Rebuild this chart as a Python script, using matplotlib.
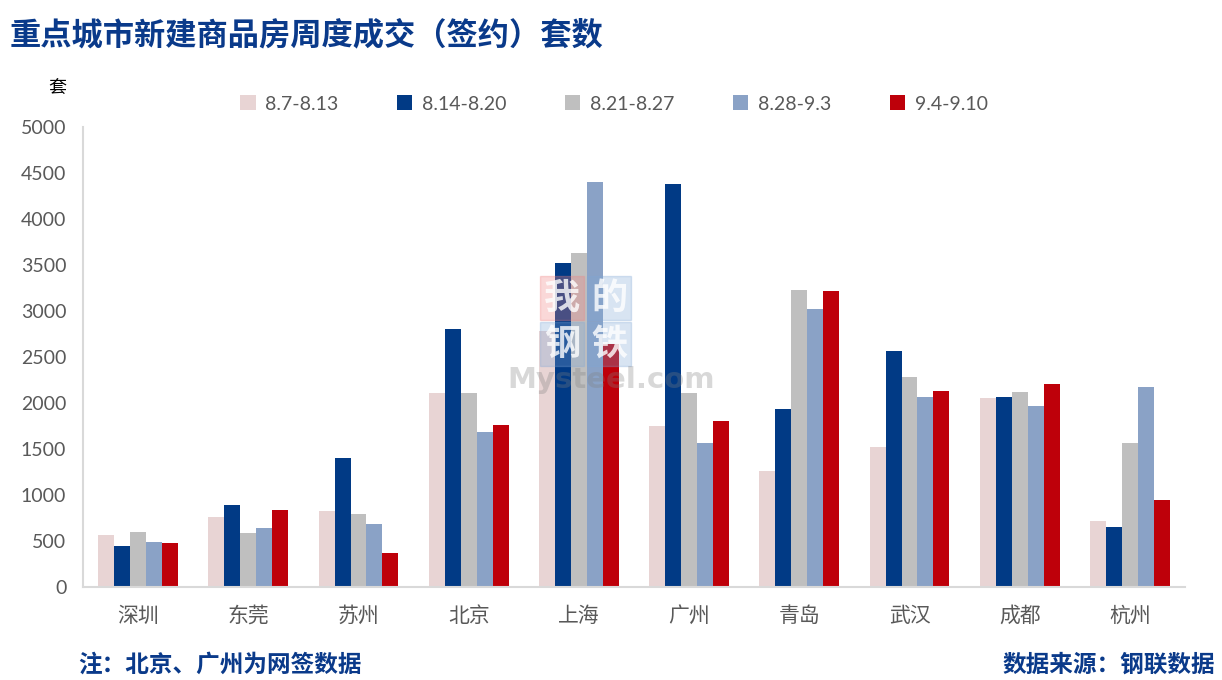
import matplotlib
matplotlib.use("Agg")
import matplotlib.pyplot as plt
import numpy as np
from matplotlib.patches import Rectangle

plt.rcParams['font.family'] = ['Lato', 'Noto Sans CJK SC', 'DejaVu Sans']

cities = ["深圳", "东莞", "苏州", "北京", "上海", "广州", "青岛", "武汉", "成都", "杭州"]
weeks = ["8.7-8.13", "8.14-8.20", "8.21-8.27", "8.28-9.3", "9.4-9.10"]
w1 = [560, 760, 830, 2110, 2780, 1750, 1260, 1520, 2050, 720]
w2 = [450, 890, 1400, 2800, 3520, 4380, 1940, 2560, 2070, 650]
w3 = [600, 590, 790, 2110, 3630, 2110, 3230, 2280, 2120, 1570]
w4 = [490, 640, 690, 1680, 4400, 1570, 3020, 2070, 1970, 2170]
w5 = [480, 840, 370, 1760, 2640, 1800, 3220, 2130, 2210, 950]
series = [w1, w2, w3, w4, w5]
colors = ["#E8D4D4", "#013A85", "#BFBFBF", "#8AA2C6", "#BE000A"]
yticks = [0, 500, 1000, 1500, 2000, 2500, 3000, 3500, 4000, 4500, 5000]

fig = plt.figure(figsize=(12.22, 6.8), dpi=100)
ax = fig.add_axes([83/1222, 1-587/680, (1185-83)/1222, (587-127)/680])

x = np.arange(len(cities))
bw = 0.145
for i, (s, c, lab) in enumerate(zip(series, colors, weeks)):
    ax.bar(x + (i - 2) * bw, s, width=bw, color=c, label=lab, zorder=2)

ax.set_xlim(-0.5, len(cities) - 0.5)
ax.set_ylim(0, 5000)
ax.set_yticks(yticks)
ax.set_yticklabels([str(t) for t in yticks], fontsize=14, color="#595959")
ax.set_xticks(x)
ax.set_xticklabels(cities, fontsize=15, color="#595959", family=['Noto Sans CJK SC'])
ax.tick_params(axis='both', length=0)
ax.tick_params(axis='x', pad=13)
ax.tick_params(axis='y', pad=12)
for sp in ["top", "right"]:
    ax.spines[sp].set_visible(False)
for sp in ["left", "bottom"]:
    ax.spines[sp].set_color("#D9D9D9")
    ax.spines[sp].set_linewidth(1.5)

leg = fig.legend(loc="center", bbox_to_anchor=(614/1222, 1-104/680), ncol=5,
                 frameon=False, fontsize=14, handlelength=0.8, handleheight=0.8,
                 columnspacing=3.0, handletextpad=0.5)
for t in leg.get_texts():
    t.set_color("#595959")

fig.text(10/1222, 1-35/680, "重点城市新建商品房周度成交（签约）套数", fontsize=22.5,
         color="#0A3A8A", fontweight="bold", va="center", ha="left",
         family=['Noto Sans CJK SC'])
fig.text(57/1222, 1-88/680, "套", fontsize=13, color="black", va="center", ha="center",
         family=['Noto Sans CJK SC'])
fig.text(78/1222, 1-665/680, "注：北京、广州为网签数据", fontsize=17, color="#0A3A8A",
         fontweight="bold", va="center", ha="left", family=['Noto Sans CJK SC'])
fig.text(1215/1222, 1-665/680, "数据来源：钢联数据", fontsize=17, color="#0A3A8A",
         fontweight="bold", va="center", ha="right", family=['Noto Sans CJK SC'])

# watermark
boxes = [(540, 276, "我", "#F08080"), (587, 276, "的", "#7FA6D6"),
         (540, 322, "钢", "#7FA6D6"), (587, 322, "铁", "#7FA6D6")]
for bx, by, ch, bc in boxes:
    fig.patches.append(Rectangle((bx/1222, 1-(by+44)/680), 44/1222, 44/680,
                                 transform=fig.transFigure, color=bc, alpha=0.3, zorder=5))
    fig.text((bx+22)/1222, 1-(by+22)/680, ch, fontsize=26, color="white", alpha=0.8,
             fontweight="bold", ha="center", va="center", family=['Noto Sans CJK SC'], zorder=6)
fig.text(611/1222, 1-380/680, "Mysteel.com", fontsize=21, color="#808080", alpha=0.3,
         fontweight="bold", ha="center", va="center", zorder=6, family=['DejaVu Sans'])

fig.savefig("out.png", dpi=100)
